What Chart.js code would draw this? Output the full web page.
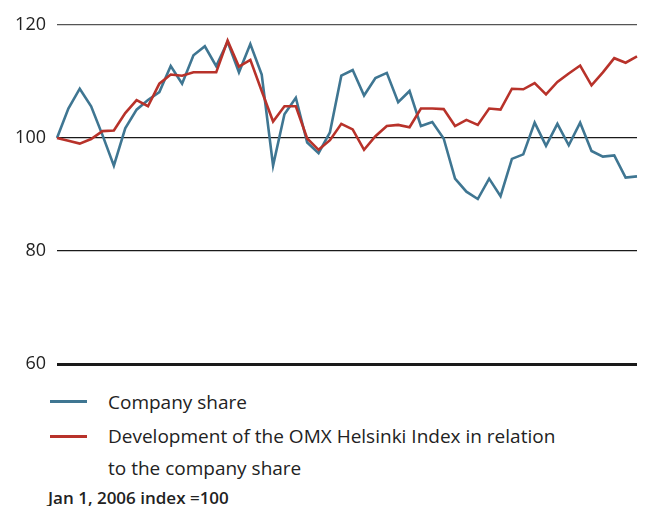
<!DOCTYPE html>
<html>
<head>
<meta charset="utf-8">
<script src="https://cdn.jsdelivr.net/npm/chart.js@4.4.1/dist/chart.umd.min.js"></script>
<style>
  html, body { margin: 0; padding: 0; background: #fff; }
  body { width: 646px; height: 506px; position: relative; overflow: hidden; font-family: "Open Sans", sans-serif; color: #222; }
  #wrap { position: absolute; left: 0; top: 3px; width: 646px; height: 383px; }
  .legend { position: absolute; left: 0; top: 384px; font-size: 19px; }
  .item { position: absolute; left: 0; width: 620px; }
  .swatch { position: absolute; left: 50px; width: 37px; height: 3px; }
  .label { position: absolute; left: 108px; line-height: 32px; white-space: nowrap; }
  .note { position: absolute; left: 48px; top: 486px; font-size: 17px; font-weight: 600; }
</style>
</head>
<body>
<div id="wrap"><canvas id="chart"></canvas></div>

<div class="legend">
  <div class="item" style="top:0">
    <div class="swatch" style="top:16px; background:#3f7692"></div>
    <div class="label" style="top:2px">Company share</div>
  </div>
  <div class="item" style="top:35px">
    <div class="swatch" style="top:16px; background:#b8322a"></div>
    <div class="label" style="top:1px">Development of the OMX Helsinki Index in relation<br>to the company share</div>
  </div>
</div>
<div class="note">Jan 1, 2006 index =100</div>

<script>
// weekly points, 2006
const weeks = [
  "1","2","3","4","5","6","7","8","9","10","11","12","13",
  "14","15","16","17","18","19","20","21","22","23","24","25","26",
  "27","28","29","30","31","32","33","34","35","36","37","38","39",
  "40","41","42","43","44","45","46","47","48","49","50","51","52"
];

const companyShare = [
  100, 105.2, 108.7, 105.6, 100.5, 95.1, 101.7, 105, 106.7, 108.1,
  112.7, 109.6, 114.6, 116.2, 112.7, 117, 111.6, 116.6, 111.2, 95.1,
  104.2, 107.1, 99.2, 97.3, 101, 111, 112, 107.5, 110.6, 111.5,
  106.3, 108.3, 102.1, 102.8, 99.9, 92.8, 90.5, 89.2, 92.8, 89.7,
  96.3, 97.1, 102.7, 98.6, 102.5, 98.7, 102.7, 97.7, 96.7, 96.9,
  93, 93.2
];

const omxIndex = [
  100, 99.5, 99, 99.8, 101.2, 101.3, 104.4, 106.7, 105.6, 109.6,
  111.2, 111, 111.6, 111.6, 111.6, 117.2, 112.6, 113.8, 108.3, 102.9,
  105.6, 105.6, 99.9, 97.9, 99.6, 102.5, 101.5, 97.9, 100.3, 102.1,
  102.3, 101.9, 105.2, 105.2, 105.1, 102.1, 103.2, 102.3, 105.2, 105,
  108.7, 108.6, 109.7, 107.7, 109.9, 111.4, 112.8, 109.3, 111.6, 114.1,
  113.3, 114.4
];

const yTicks = [60, 80, 100, 120];

new Chart(document.getElementById("chart"), {
  type: "line",
  data: {
    labels: weeks,
    datasets: [
      {
        label: "Development of the OMX Helsinki Index in relation to the company share",
        data: omxIndex,
        borderColor: "#b8322a",
        borderWidth: 2.6,
        pointRadius: 0,
        tension: 0
      },
      {
        label: "Company share",
        data: companyShare,
        borderColor: "#3f7692",
        borderWidth: 2.6,
        pointRadius: 0,
        tension: 0
      }
    ]
  },
  options: {
    responsive: true,
    maintainAspectRatio: false,
    animation: false,
    layout: { padding: { left: 0, right: 9, top: 14, bottom: 4 } },
    plugins: { legend: { display: false }, tooltip: { enabled: false } },
    scales: {
      x: {
        display: false,
        offset: false
      },
      y: {
        min: 60,
        max: 120,
        afterBuildTicks: (scale) => { scale.ticks = yTicks.map(v => ({ value: v })); },
        afterFit: (scale) => { scale.width = 57; },
        border: { display: false },
        grid: {
          drawTicks: false,
          color: (c) => c.tick && c.tick.value === 120 ? "#555" : "#1a1a1a",
          lineWidth: (c) => c.tick && c.tick.value === 60 ? 3 : 1.2
        },
        ticks: {
          padding: 11,
          color: "#222",
          font: { family: "Open Sans", size: 18 }
        }
      }
    }
  }
});
</script>
</body>
</html>
